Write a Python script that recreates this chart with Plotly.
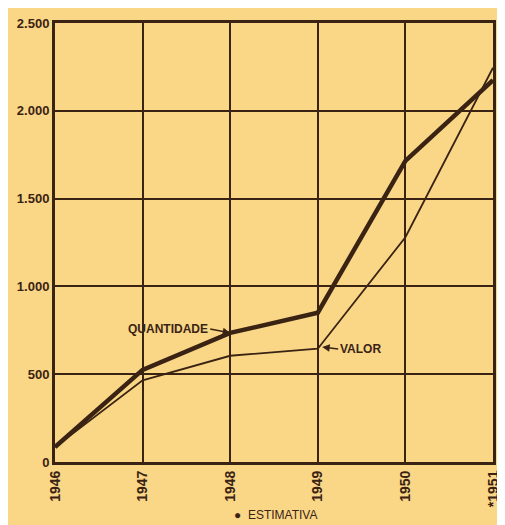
import plotly.graph_objects as go

years = [1946, 1947, 1948, 1949, 1950, 1951]
year_labels = ["1946", "1947", "1948", "1949", "1950", "*1951"]
quantidade = [85, 525, 735, 850, 1715, 2175]
valor = [85, 465, 605, 645, 1280, 2245]
y_ticks = [0, 500, 1000, 1500, 2000, 2500]
y_labels = ["0", "500", "1.000", "1.500", "2.000", "2.500"]

ink = "#3b2314"
bg = "#f9d787"

fig = go.Figure()
fig.add_trace(go.Scatter(x=years, y=valor, mode="lines", name="VALOR",
                         line=dict(color=ink, width=1.8)))
fig.add_trace(go.Scatter(x=years, y=quantidade, mode="lines", name="QUANTIDADE",
                         line=dict(color=ink, width=4.5)))

fig.update_layout(
    width=497, height=517,
    paper_bgcolor=bg, plot_bgcolor=bg,
    margin=dict(l=47, r=12, t=15, b=63, autoexpand=False),
    showlegend=False,
    font=dict(family="Liberation Sans", color=ink),
)
fig.update_xaxes(range=[1946, 1951], tickvals=years, ticktext=year_labels,
                 tickangle=-90, showgrid=True, gridcolor=ink, gridwidth=2,
                 showline=True, linecolor=ink, linewidth=3, mirror=True,
                 zeroline=False, ticks="", automargin=False,
                 tickfont=dict(size=14, family="Liberation Sans", weight="bold"))
fig.update_yaxes(range=[0, 2500], tickvals=y_ticks, ticktext=y_labels,
                 showgrid=True, gridcolor=ink, gridwidth=2,
                 showline=True, linecolor=ink, linewidth=3, mirror=True,
                 zeroline=False, ticks="", automargin=False,
                 tickfont=dict(size=13, family="Liberation Sans", weight="bold"))

fig.add_annotation(x=1948, y=quantidade[2], text="<b>QUANTIDADE</b>",
                   showarrow=True, arrowhead=2, arrowsize=1, arrowwidth=1.5,
                   arrowcolor=ink, ax=-20, ay=-4, xanchor="right",
                   font=dict(size=12, color=ink, family="Liberation Sans"))
fig.add_annotation(x=1949.05, y=valor[3] + 10, text="<b>VALOR</b>",
                   showarrow=True, arrowhead=2, arrowsize=1, arrowwidth=1.5,
                   arrowcolor=ink, ax=16, ay=2, xanchor="left",
                   font=dict(size=12, color=ink, family="Liberation Sans"))
fig.add_annotation(xref="paper", yref="paper", x=0.405, y=-0.12,
                   text="●  ESTIMATIVA", showarrow=False, yanchor="middle",
                   xanchor="left",
                   font=dict(size=12, color=ink, family="Liberation Sans"))

fig.write_html("out.html")
